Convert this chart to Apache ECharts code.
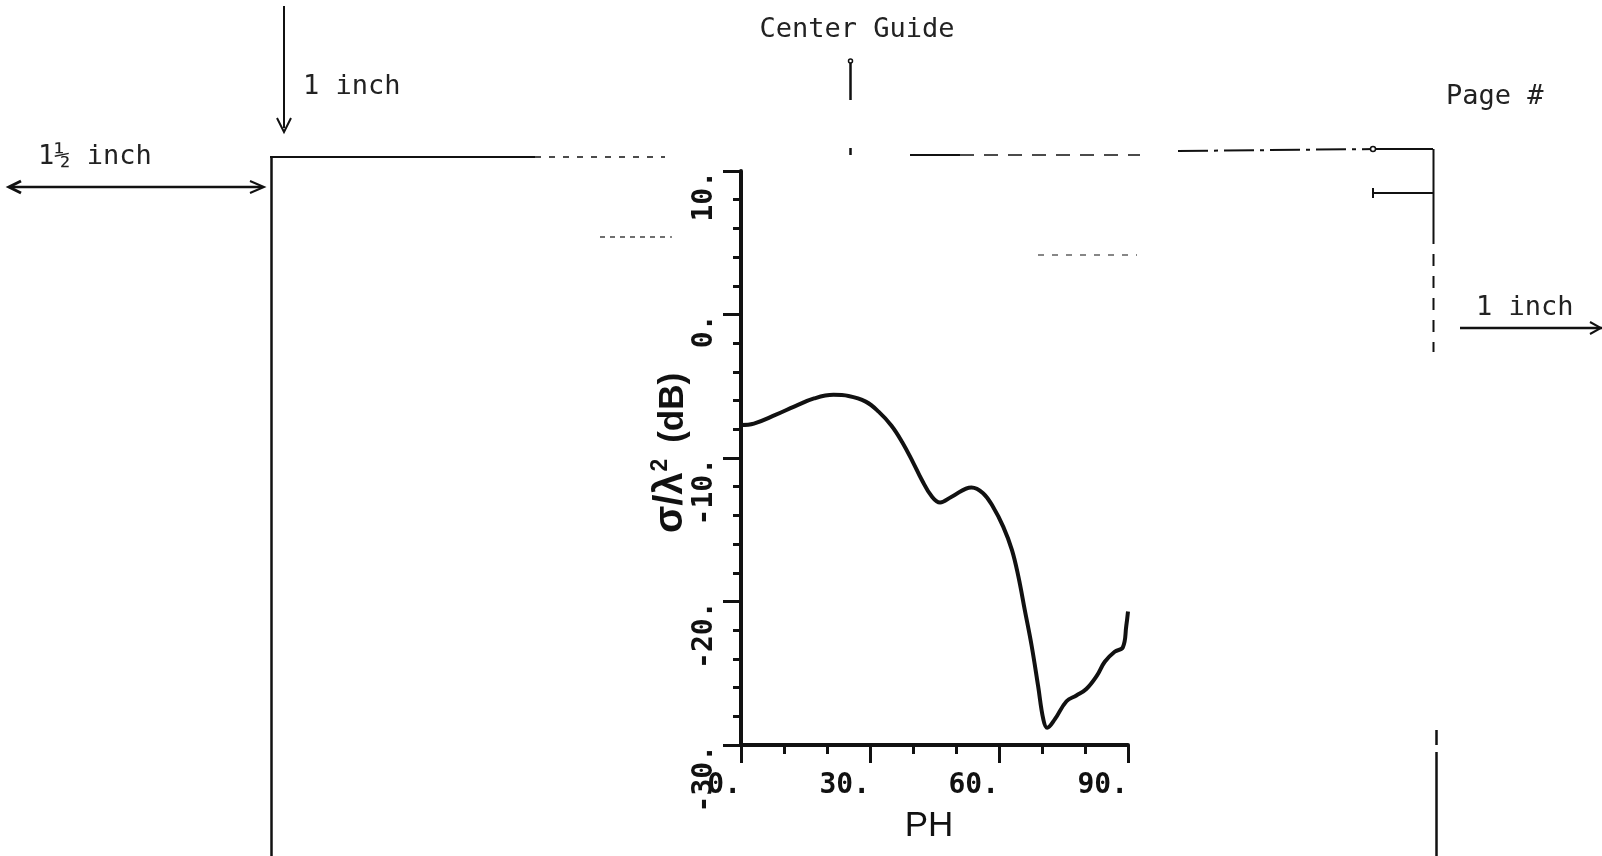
<!DOCTYPE html>
<html>
<head>
<meta charset="utf-8">
<script src="https://cdn.jsdelivr.net/npm/echarts@6/dist/echarts.min.js"></script>
<style>
html,body{margin:0;padding:0;background:#fff;}
#chart{width:1602px;height:856px;}
</style>
</head>
<body>
<div id="chart"></div>
<script>
// PH angle (degrees)
const phDeg = [0, 3, 8, 12.5, 17, 21.5, 25, 29, 32, 35, 37.5, 40, 42, 44.3, 46.3, 49, 53.6, 56.3, 58.6, 61, 63, 64.5, 66, 67.6, 69.1, 70.3, 71.2, 73, 75.7, 78, 80.3, 82.7, 84.6, 86.9, 88.8, 89.6, 90];
// sigma / lambda^2 (dB)
const rcsDb = [-7.7, -7.6, -7.0, -6.4, -5.85, -5.6, -5.68, -6.07, -6.77, -7.75, -8.9, -10.3, -11.5, -12.65, -13.1, -12.7, -12.05, -12.45, -13.4, -14.8, -16.4, -18.25, -20.6, -23.1, -25.9, -28.2, -28.8, -28.2, -26.95, -26.55, -26.1, -25.2, -24.2, -23.5, -23.2, -21.7, -20.7];
// tick labels
const xTickValues = [0, 30, 60, 90];
const xTickLabels = ['0.', '30.', '60.', '90.'];
const yTickValues = [-30, -20, -10, 0, 10];
const yTickLabels = ['-30.', '-20.', '-10.', '0.', '10.'];
// page template texts
const pageTexts = ['Center Guide', '1 inch', '1\u00BD inch', 'Page #', '1 inch'];

const chart = echarts.init(document.getElementById('chart'));
const ink = '#111';
const pageFont = '27px "DejaVu Sans Mono"';
function seg(x1, y1, x2, y2, w, dash) {
  return { type: 'line', shape: { x1, y1, x2, y2 }, style: { stroke: ink, lineWidth: w || 2, lineDash: dash || null }, silent: true };
}
function poly(points, w) {
  return { type: 'polyline', shape: { points }, style: { stroke: ink, lineWidth: w || 2, fill: null }, silent: true };
}
function txt(text, x, y, align) {
  return { type: 'text', x, y, style: { text, font: pageFont, fill: '#222', align: align || 'left', verticalAlign: 'middle' }, silent: true };
}

const graphics = [
  txt(pageTexts[0], 857, 30, 'center'),
  seg(850.5, 62, 850.5, 100, 2.5),
  { type: 'circle', shape: { cx: 850.5, cy: 61, r: 2 }, style: { stroke: ink, fill: '#fff', lineWidth: 1.5 }, silent: true },
  seg(850.5, 148, 850.5, 155, 2.5),
  txt(pageTexts[1], 303, 87),
  seg(284, 6, 284, 128, 2),
  poly([[277, 118], [284, 132], [291, 118]], 2),
  txt(pageTexts[2], 38, 157),
  seg(10, 187, 262, 187, 2.5),
  poly([[21, 181], [9, 187], [21, 193]], 3),
  poly([[250, 181], [264, 187], [250, 193]], 2),
  // page frame
  seg(271.5, 157, 271.5, 856, 2.5),
  seg(270, 157, 535, 157, 2),
  seg(535, 157, 665, 157, 1.5, [6, 8]),
  seg(910, 155, 960, 155, 2),
  seg(960, 155, 1140, 155, 1.5, [14, 10]),
  seg(1178, 151, 1375, 149, 2, [30, 6, 4, 6]),
  seg(1375, 149, 1433, 149, 2),
  { type: 'circle', shape: { cx: 1373, cy: 149, r: 2.5 }, style: { stroke: ink, fill: '#fff', lineWidth: 1.5 }, silent: true },
  seg(1433.5, 149, 1433.5, 232, 2),
  seg(1433.5, 232, 1433.5, 352, 2, [12, 10]),
  seg(1436.5, 730, 1436.5, 745, 2.5),
  seg(1436.5, 752, 1436.5, 856, 2.5),
  seg(1373, 193, 1433, 193, 2),
  seg(1373, 188, 1373, 198, 2),
  txt(pageTexts[3], 1446, 97),
  txt(pageTexts[4], 1476, 308),
  seg(1460, 328, 1602, 328, 2.5),
  poly([[1590, 322], [1601, 328], [1590, 334]], 2),
  // faint dashed guide fragments
  seg(600, 237, 672, 237, 1.2, [5, 5]),
  seg(1038, 255, 1137, 255, 1.2, [6, 8])
];

const nameFont = '"Liberation Sans", "DejaVu Sans", sans-serif';
const option = {
  animation: false,
  backgroundColor: '#fff',
  grid: { left: 741, top: 171, right: 474, bottom: 111, containLabel: false },
  xAxis: {
    type: 'value', min: 0, max: 90, interval: 30,
    name: 'PH', nameLocation: 'middle', nameGap: 64, nameMoveOverlap: false,
    nameTextStyle: { fontFamily: nameFont, fontSize: 35, color: ink, padding: [0, 11, 0, 0] },
    axisLine: { show: true, onZero: false, lineStyle: { color: ink, width: 4 } },
    axisTick: { show: true, inside: false, length: 18, lineStyle: { color: ink, width: 3 } },
    minorTick: { show: true, splitNumber: 3, length: 9, lineStyle: { color: ink, width: 3 } },
    splitLine: { show: false },
    minorSplitLine: { show: false },
    axisLabel: {
      show: true, margin: 27, align: 'right', verticalAlign: 'top',
      fontFamily: '"DejaVu Sans Mono", monospace', fontWeight: 'bold', fontSize: 28, color: ink,
      formatter: v => { const i = xTickValues.indexOf(v); return i >= 0 ? xTickLabels[i] : ''; }
    }
  },
  yAxis: {
    type: 'value', min: -30, max: 10, interval: 10,
    name: '{g|\u03C3/\u03BB}{s|2}{m| (dB)}', nameLocation: 'middle', nameGap: 50, nameRotate: 90, nameMoveOverlap: false,
    nameTextStyle: {
      padding: [0, 0, 0, 10],
      rich: {
        g: { fontFamily: nameFont, fontWeight: 'bold', fontSize: 40, color: ink, verticalAlign: 'bottom', lineHeight: 42 },
        m: { fontFamily: nameFont, fontWeight: 'bold', fontSize: 35, color: ink, verticalAlign: 'bottom', lineHeight: 38, padding: [0, 0, 0, 6] },
        s: { fontFamily: nameFont, fontWeight: 'bold', fontSize: 23, color: ink, verticalAlign: 'top', lineHeight: 22, padding: [0, 0, 36, 1] }
      }
    },
    axisLine: { show: true, onZero: false, lineStyle: { color: ink, width: 4 } },
    axisTick: { show: true, inside: false, length: 18, lineStyle: { color: ink, width: 3 } },
    minorTick: { show: true, splitNumber: 5, length: 8, lineStyle: { color: ink, width: 3 } },
    splitLine: { show: false },
    minorSplitLine: { show: false },
    axisLabel: {
      show: true, rotate: 90, margin: 22, align: 'right', verticalAlign: 'bottom',
      fontFamily: '"DejaVu Sans Mono", monospace', fontWeight: 'bold', fontSize: 28, color: ink,
      formatter: v => { const i = yTickValues.indexOf(v); return i >= 0 ? yTickLabels[i] : ''; }
    }
  },
  series: [{
    type: 'line',
    data: phDeg.map((x, i) => [x, rcsDb[i]]),
    smooth: 0.4,
    showSymbol: false,
    symbol: 'none',
    lineStyle: { color: ink, width: 4 },
    clip: false
  }],
  graphic: { elements: graphics }
};
chart.setOption(option);
</script>
</body>
</html>
